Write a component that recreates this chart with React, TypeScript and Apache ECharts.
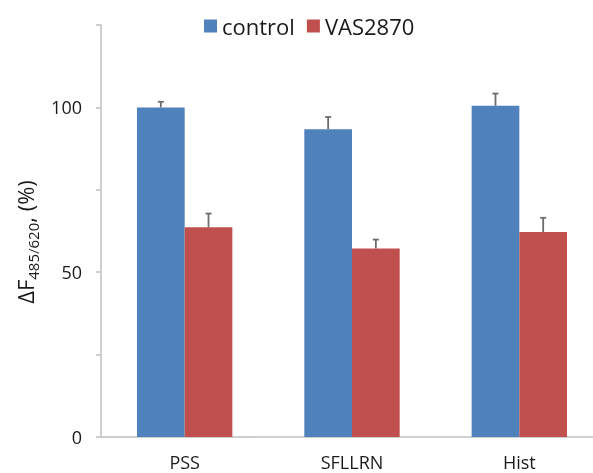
import React, { useEffect, useRef } from "react";
import * as echarts from "echarts";

const categories = ["PSS", "SFLLRN", "Hist"];
const seriesNames = ["control", "VAS2870"];
const controlValues = [100, 93.4, 100.5];
const controlErrors = [1.7, 3.7, 3.7];
const vasValues = [63.6, 57.2, 62.2];
const vasErrors = [4.2, 2.7, 4.3];
const yTicks = [0, 25, 50, 75, 100, 125];
const colors = ["#4f81bd", "#c0504d"];

const FONT = "'Open Sans', 'Noto Sans', sans-serif";

export default function App() {
  const ref = useRef<HTMLDivElement>(null);
  useEffect(() => {
    if (!ref.current) return;
    const chart = echarts.init(ref.current, null, { renderer: "svg" });
    const gapFrac = 0.43;
    const errData: number[][] = [];
    controlValues.forEach((v, i) => errData.push([i, v, controlErrors[i], 0]));
    vasValues.forEach((v, i) => errData.push([i, v, vasErrors[i], 1]));

    chart.setOption({
      animation: false,
      textStyle: { fontFamily: FONT },
      legend: {
        data: seriesNames,
        top: 10,
        left: 199,
        icon: "rect",
        itemWidth: 13,
        itemHeight: 13,
        itemGap: 12,
        textStyle: { fontSize: 22, color: "#1a1a1a", fontFamily: FONT },
      },
      grid: { left: 101, top: 25, width: 502, height: 412, containLabel: false },
      xAxis: {
        type: "category",
        data: categories,
        axisLine: { lineStyle: { color: "#bfbfbf", width: 1.5 } },
        axisTick: { show: false },
        axisLabel: { fontSize: 18, lineHeight: 18, color: "#1a1a1a", margin: 16, fontFamily: FONT },
      },
      yAxis: {
        type: "value",
        min: yTicks[0],
        max: yTicks[yTicks.length - 1],
        interval: 25,
        axisLine: { show: true, lineStyle: { color: "#bfbfbf", width: 1.5 } },
        axisTick: { show: true, length: 5, lineStyle: { color: "#bfbfbf", width: 1.5 } },
        splitLine: { show: false },
        axisLabel: {
          fontSize: 18,
          color: "#1a1a1a",
          margin: 19,
          fontFamily: FONT,
          formatter: (v: number) => (v % 50 === 0 ? String(v) : ""),
        },
        name: "{a|ΔF}{b|485/620}{a|, (%)}",
        nameLocation: "middle",
        nameGap: 60,
        nameTextStyle: {
          padding: [0, 22, 0, 0],
          rich: {
            a: { fontSize: 22, color: "#1a1a1a", fontFamily: FONT, lineHeight: 30, verticalAlign: "middle" },
            b: { fontSize: 15, color: "#1a1a1a", fontFamily: FONT, lineHeight: 30, verticalAlign: "bottom", padding: [10, 0, 0, 0] },
          },
        },
      },
      series: [
        {
          name: seriesNames[0],
          type: "bar",
          data: controlValues,
          barGap: "0%",
          barCategoryGap: gapFrac * 100 + "%",
          itemStyle: { color: colors[0] },
        },
        {
          name: seriesNames[1],
          type: "bar",
          data: vasValues,
          barGap: "0%",
          barCategoryGap: gapFrac * 100 + "%",
          itemStyle: { color: colors[1] },
        },
        {
          type: "custom",
          name: "err",
          data: errData,
          z: 10,
          renderItem: (params: any, api: any) => {
            const cat = api.value(0);
            const val = api.value(1);
            const err = api.value(2);
            const s = api.value(3);
            const band = api.size([1, 0])[0];
            const barW = (band * (1 - gapFrac)) / 2;
            const base = api.coord([cat, val]);
            const top = api.coord([cat, val + err]);
            const x = base[0] + (s === 0 ? -barW / 2 : barW / 2);
            const style = { stroke: "#6d6d6d", lineWidth: 1.8 };
            return {
              type: "group",
              children: [
                { type: "line", shape: { x1: x, y1: base[1], x2: x, y2: top[1] }, style },
                { type: "line", shape: { x1: x - 3, y1: top[1], x2: x + 3, y2: top[1] }, style },
              ],
            };
          },
        },
      ],
    });
    return () => chart.dispose();
  }, []);
  return (
    <div style={{ position: "fixed", left: 0, top: 0, width: 593, height: 473, overflow: "hidden" }}>
      <div ref={ref} style={{ width: 640, height: 473 }} />
    </div>
  );
}
